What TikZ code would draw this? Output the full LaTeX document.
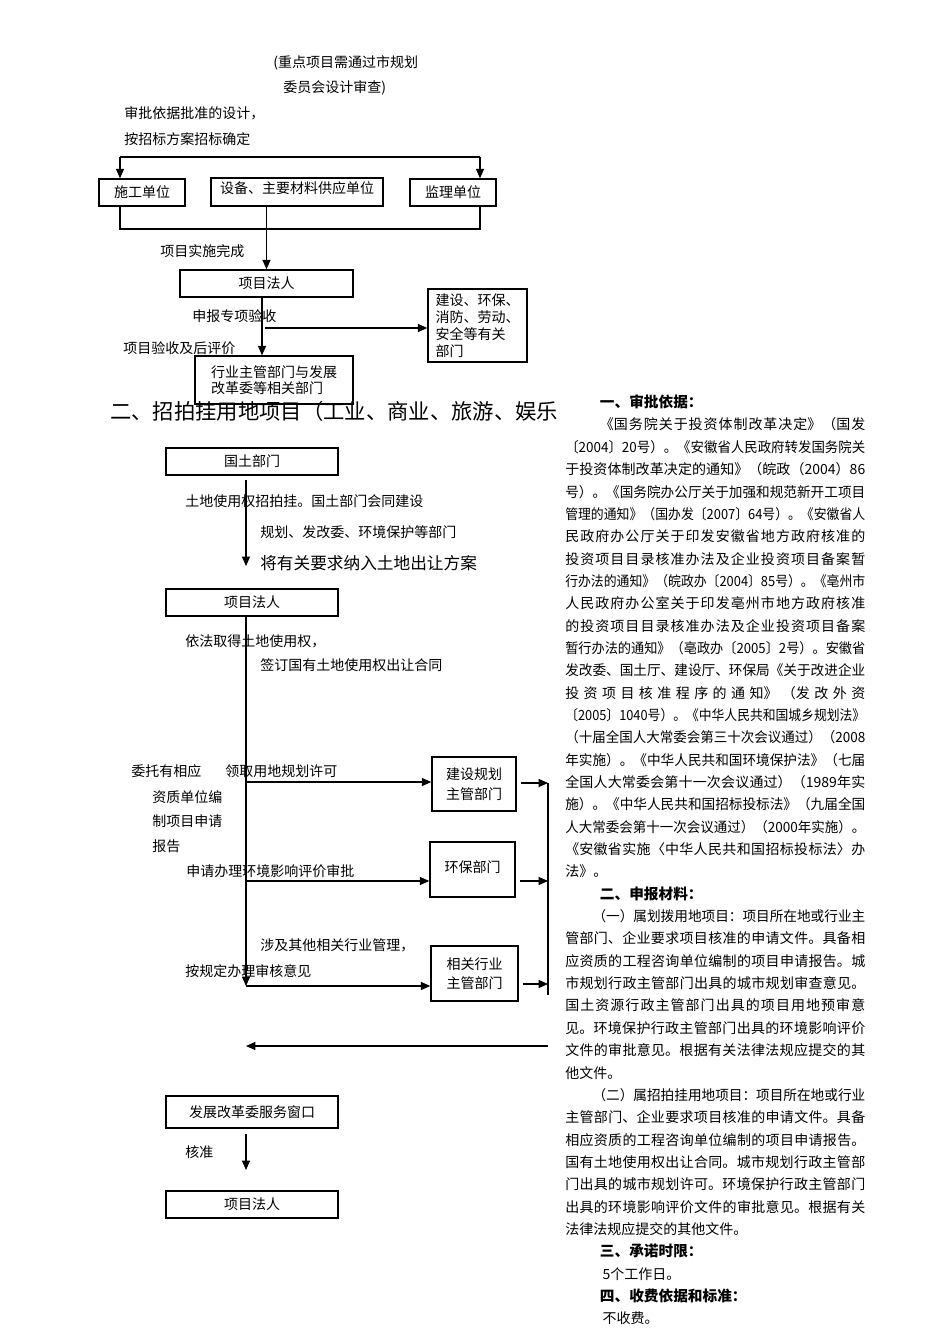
\documentclass[tikz,border=0pt]{standalone}
\usepackage{fontspec}
\usepackage{graphicx}
\setmainfont{Noto Sans CJK SC}
\usetikzlibrary{arrows.meta, positioning}
\XeTeXlinebreaklocale "zh"
\XeTeXlinebreakskip=0pt plus 1fil

% one justified line / one plain line / one heading of the right column
\newsavebox{\linebox}
\newcommand{\jline}[2][0pt]{\par
  \sbox{\linebox}{\hspace*{#1}#2}%
  \ifdim\wd\linebox>225pt
    \noindent\resizebox{225pt}{\height}{\usebox{\linebox}}\par
  \else
    {\parfillskip=0pt\noindent\hspace*{#1}#2\par}%
  \fi}
\newcommand{\pline}[2][0pt]{\par{\parfillskip=0pt plus 1fill\noindent\hspace*{#1}#2\par}}
\newcommand{\headline}[1]{\pline[26pt]{\bfseries\fontsize{11pt}{16.76pt}\selectfont #1}}

\tikzset{
  box/.style={draw, line width=1.1pt, inner sep=0pt, font=\fontsize{10.5pt}{13pt}\selectfont},
  note/.style={anchor=west, inner sep=0pt, font=\fontsize{10.5pt}{13pt}\selectfont},
  link/.style={line width=0.8pt}
}

\begin{document}
\begin{tikzpicture}[
  x=0.75pt, y=-0.75pt,
  >={Triangle[length=7pt,width=6pt]}
]
\useasboundingbox (0,0) rectangle (950,1344);

% Notes above the first flow
\node[note] (plan1) at (273,63) {(重点项目需通过市规划};
\node[note] (plan2) at (283,88) {委员会设计审查)};
\node[note] (bid1) at (124,113) {审批依据批准的设计，};
\node[note] (bid2) at (124,139) {按招标方案招标确定};

% Nodes for the three units
\node[box, minimum width=64.5pt, minimum height=20.25pt] (build) at (142,192.5) {施工单位};
\node[box, minimum width=129pt, minimum height=21pt] (supply) at (297,192) {\raisebox{6pt}{设备、主要材料供应单位}};
\node[box, minimum width=64.5pt, minimum height=20.25pt] (super) at (453,192.5) {监理单位};

% Tender split
\coordinate (t1) at (120,157);
\coordinate (t2) at (480,157);
\draw[link] (t1) -- (t2);
\draw[link, ->] (t1) -- (t1 |- build.north);
\draw[link, ->] (t2) -- (t2 |- super.north);

% Units join again
\coordinate (b1) at (120,229);
\coordinate (b2) at (480,229);
\draw[link] (b1 |- build.south) -- (b1) -- (b2) -- (b2 |- super.south);

\node[note] (done) at (160,251) {项目实施完成};
\node[box, minimum width=129.75pt, minimum height=20.25pt] (owner1) at (266.5,283.5) {项目法人};
\draw[link, ->] (supply.south -| owner1.north) -- (owner1.north);

% Acceptance
\node[box, minimum width=74.25pt, minimum height=54.75pt, align=left,
      font=\fontsize{10.5pt}{12.75pt}\selectfont] (depts) at (477.5,325.5)
  {建设、环保、\\消防、劳动、\\安全等有关\\部门};
\node[box, minimum width=118.5pt, minimum height=36pt, align=left,
      font=\fontsize{10.5pt}{12pt}\selectfont] (trade) at (274,380)
  {行业主管部门与发展\\改革委等相关部门};
\node[note] (special) at (192,316) {申报专项验收};
\node[note] (review) at (123,348) {项目验收及后评价};

\coordinate (m1) at (262,328);
\coordinate (m2) at (265,328);
\draw[link, ->] (m1 |- owner1.south) -- (m1 |- trade.north);
\draw[link, ->] (m2) -- (m2 -| depts.west);

% Heading of part two (cut off by the text column)
\begin{scope}
\clip (0,385) rectangle (557,440);
\node[anchor=west, inner sep=0pt, font=\fontsize{16pt}{18pt}\selectfont] (title2) at (110,411)
  {二、招拍挂用地项目（工业、商业、旅游、娱乐};
\end{scope}

% Land office
\node[box, minimum width=129pt, minimum height=20.25pt] (land) at (252,461.5) {国土部门};
\coordinate (a1) at (246,480);
\coordinate (a2) at (246,566);
\draw[link, ->] (a1) -- (a2);
\node[note] (auction1) at (185,501) {土地使用权招拍挂。国土部门会同建设};
\node[note] (auction2) at (260,532) {规划、发改委、环境保护等部门};
\node[note, font=\fontsize{12.5pt}{14pt}\selectfont] (auction3) at (260,563) {将有关要求纳入土地出让方案};

\node[box, minimum width=129pt, minimum height=20.25pt] (owner2) at (252,602.5) {项目法人};
\node[note] (right1) at (185,641) {依法取得土地使用权，};
\node[note] (right2) at (260,665) {签订国有土地使用权出让合同};

% Report note
\node[note] (entrust1) at (131,771) {委托有相应};
\node[note] (entrust2) at (152,797) {资质单位编};
\node[note] (entrust3) at (152,821) {制项目申请};
\node[note] (entrust4) at (152,846) {报告};

% Nodes for the approving departments
\node[box, minimum width=63pt, minimum height=40.5pt, align=left,
      font=\fontsize{10.5pt}{15pt}\selectfont] (plan) at (474,784) {建设规划\\主管部门};
\node[box, minimum width=63.75pt, minimum height=41.25pt] (env) at (472.5,869.5) {\raisebox{4pt}{环保部门}};
\node[box, minimum width=65.25pt, minimum height=41.25pt, align=left,
      font=\fontsize{10.5pt}{14.25pt}\selectfont] (other) at (474.5,973.5) {相关行业\\主管部门};

\node[note] (permit) at (225,771) {领取用地规划许可};
\node[note] (eia) at (186,871) {申请办理环境影响评价审批};
\node[note] (rule1) at (260,945) {涉及其他相关行业管理，};
\node[note] (rule2) at (185,971) {按规定办理审核意见};

% Main line and branches
\coordinate (h1) at (246,782);
\coordinate (h2) at (246,881);
\coordinate (h3) at (246,986);
\draw[link, ->] (h3 |- owner2.south) -- (h3);
\draw[link, ->] (h1) -- (h1 -| plan.west);
\draw[link, ->] (h2) -- (h2 -| env.west);
\draw[link, ->] (h3) -- (h3 -| other.west);

% Collecting line on the right
\coordinate (r1) at (548,783);
\coordinate (r2) at (548,881);
\coordinate (r3) at (548,984);
\coordinate (r4) at (548,995);
\draw[link, ->, shorten <=3pt] (plan.east |- r1) -- (r1);
\draw[link, ->, shorten <=3pt] (env.east |- r2) -- (r2);
\draw[link, ->, shorten <=3pt] (other.east |- r3) -- (r3);
\draw[link] (r1) -- (r4);
\coordinate (r5) at (548,1046);
\coordinate (l5) at (246,1046);
\draw[link, ->] (r5) -- (l5);

% Final approval
\node[box, minimum width=129pt, minimum height=24pt] (window) at (252,1112) {发展改革委服务窗口};
\node[box, minimum width=129pt, minimum height=20.25pt] (owner3) at (252,1204.5) {项目法人};
\coordinate (k1) at (246,1134);
\coordinate (k2) at (246,1170);
\draw[link, ->] (k1) -- (k2);
\node[note] (grant) at (185,1152) {核准};

% Right column text
\node[anchor=north west, inner sep=0pt, text width=225pt,
      font=\fontsize{10.5pt}{16.76pt}\selectfont] (basis) at (565,385) {%
\parindent=0pt \parskip=0pt \tolerance=10000
\headline{一、审批依据：}
\jline[26pt]{《国务院关于投资体制改革决定》（国发}
\jline{〔2004〕20号）。《安徽省人民政府转发国务院关}
\jline{于投资体制改革决定的通知》（皖政（2004）86}
\jline{号）。《国务院办公厅关于加强和规范新开工项目}
\jline{管理的通知》（国办发〔2007〕64号）。《安徽省人}
\jline{民政府办公厅关于印发安徽省地方政府核准的}
\jline{投资项目目录核准办法及企业投资项目备案暂}
\jline{行办法的通知》（皖政办〔2004〕85号）。《亳州市}
\jline{人民政府办公室关于印发亳州市地方政府核准}
\jline{的投资项目目录核准办法及企业投资项目备案}
\jline{暂行办法的通知》（亳政办〔2005〕2号）。安徽省}
\jline{发改委、国土厅、建设厅、环保局《关于改进企业}
\jline{投资项目核准程序的通知》（发改外资}
\jline{〔2005〕1040号）。《中华人民共和国城乡规划法》}
\jline{（十届全国人大常委会第三十次会议通过）（2008}
\jline{年实施）。《中华人民共和国环境保护法》（七届}
\jline{全国人大常委会第十一次会议通过）（1989年实}
\jline{施）。《中华人民共和国招标投标法》（九届全国}
\jline{人大常委会第十一次会议通过）（2000年实施）。}
\jline{《安徽省实施〈中华人民共和国招标投标法〉办}
\pline{法》。}
\headline{二、申报材料：}
\jline[21pt]{（一）属划拨用地项目：项目所在地或行业主}
\jline{管部门、企业要求项目核准的申请文件。具备相}
\jline{应资质的工程咨询单位编制的项目申请报告。城}
\jline{市规划行政主管部门出具的城市规划审查意见。}
\jline{国土资源行政主管部门出具的项目用地预审意}
\jline{见。环境保护行政主管部门出具的环境影响评价}
\jline{文件的审批意见。根据有关法律法规应提交的其}
\pline{他文件。}
\jline[21pt]{（二）属招拍挂用地项目：项目所在地或行业}
\jline{主管部门、企业要求项目核准的申请文件。具备}
\jline{相应资质的工程咨询单位编制的项目申请报告。}
\jline{国有土地使用权出让合同。城市规划行政主管部}
\jline{门出具的城市规划许可。环境保护行政主管部门}
\jline{出具的环境影响评价文件的审批意见。根据有关}
\pline{法律法规应提交的其他文件。}
\headline{三、承诺时限：}
\pline[28pt]{5个工作日。}
\headline{四、收费依据和标准：}
\pline[28pt]{不收费。}
};

\end{tikzpicture}
\end{document}
